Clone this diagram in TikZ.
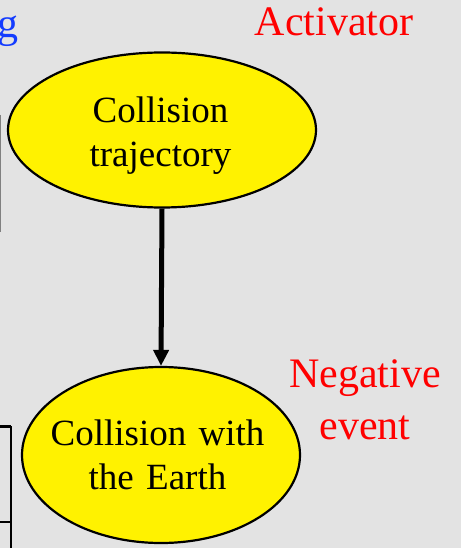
\documentclass[tikz,border=0pt]{standalone}
\usepackage{fontspec}
\setmainfont{Liberation Serif}
\usetikzlibrary{arrows.meta,shapes.geometric}
\definecolor{bg}{RGB}{227,227,227}
\definecolor{lab}{RGB}{255,0,0}
\definecolor{ttl}{RGB}{20,60,255}
\newcommand{\ctrline}[2][0pt]{\makebox[\linewidth][c]{#2\hspace*{#1}}}
\begin{document}
\begin{tikzpicture}[x=1pt,y=-1pt,
  ell/.style={ellipse,draw=black,line width=2.2pt,fill=yellow,inner sep=0pt,align=center,text width=180pt,font=\fontsize{37}{44}\selectfont},
  redlab/.style={text=lab,align=center,font=\fontsize{42}{52}\selectfont,inner sep=0pt},
  conn/.style={line width=5pt,-{Triangle[length=16pt,width=15pt]}}]
\useasboundingbox (0,0) rectangle (461,548);
\clip (0,0) rectangle (461,548);
\fill[bg] (0,0) rectangle (461,548);
\node[ell,minimum width=308pt,minimum height=155pt] (a) at (162,130) {\rule{0pt}{37pt}\ctrline[3pt]{Collision}\\\ctrline[3pt]{trajectory}};
\node[ell,minimum width=278pt,minimum height=176pt] (b) at (161,455) {\ctrline[7pt]{Collision with}\\\ctrline[7pt]{the Earth}};
\draw[conn] (a.south) -- (b.north);
\node[redlab] (act) at (334,22) {Activator};
\node[redlab] (neg) at (365,400) {Negative\\event};
\node[text=ttl,font=\fontsize{42}{50}\selectfont,inner sep=0pt,anchor=base east] (g) at (19,38) {g};
\coordinate (l1) at (0.5,115);
\coordinate (l2) at (0.5,232);
\draw[gray,line width=1.2pt] (l1) -- (l2);
\coordinate (r1) at (-5,426);
\coordinate (r2) at (11,426);
\coordinate (r3) at (11,560);
\draw[black,line width=3pt] (r1) -- (r2);
\draw[black,line width=2pt] (r2) -- (r3);
\coordinate (h1) at (-5,522);
\coordinate (h2) at (11,522);
\draw[black,line width=1.5pt] (h1) -- (h2);
\end{tikzpicture}
\end{document}
